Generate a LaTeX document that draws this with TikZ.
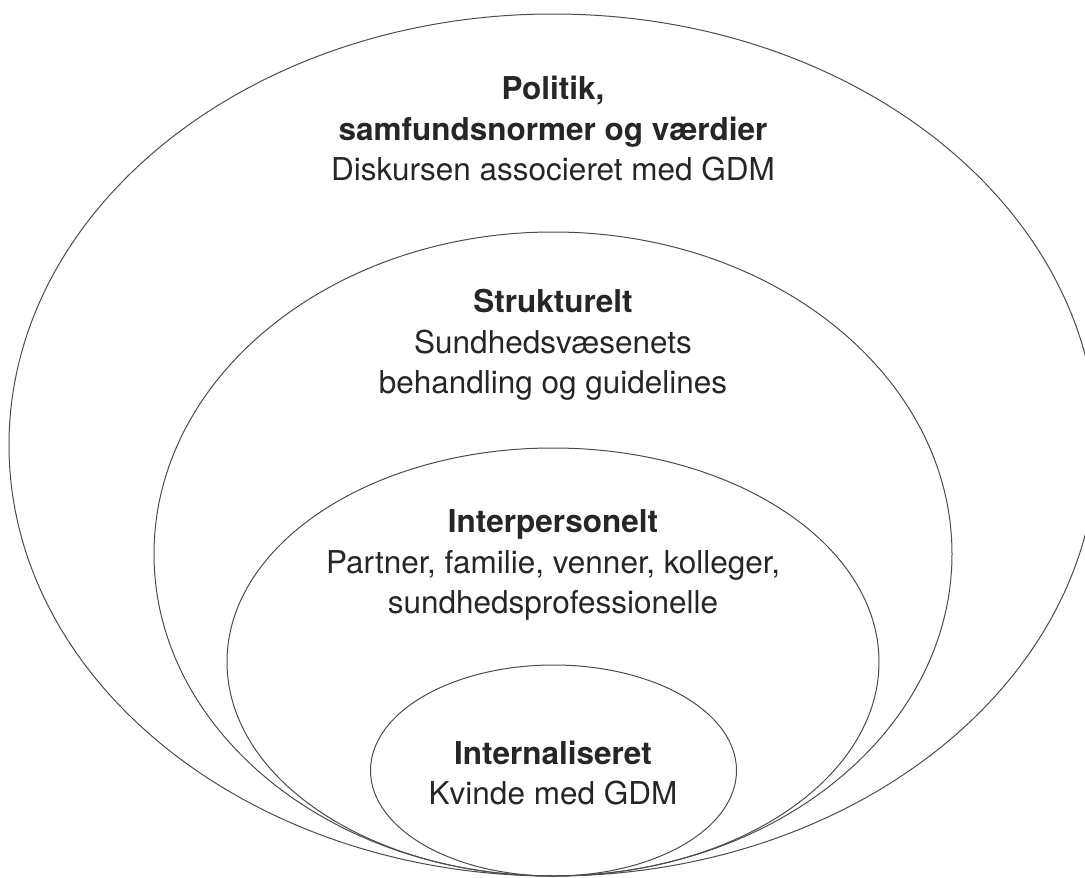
\documentclass[tikz,border=0pt]{standalone}
\usepackage{fontspec}
\setmainfont{TeX Gyre Heros}
\usepackage{tikz}
\usetikzlibrary{shapes.geometric, positioning}

\begin{document}
\begin{tikzpicture}[x=1pt, y=-1pt, thick,
    ring/.style={draw=black!70, line width=1pt, ellipse, inner sep=0pt},
    label/.style={align=center, text=black!85, font=\fontsize{31.5}{40.5}\selectfont}]

\useasboundingbox (0,0) rectangle (1085,878);
\clip (0,0) rectangle (1085,878);

\node[ring, minimum width=1088pt, minimum height=862pt] (politik) at (553,445) {};
\node[ring, minimum width=798pt, minimum height=644pt] (struktur) at (553,554) {};
\node[ring, minimum width=652pt, minimum height=428pt] (inter) at (553,662) {};
\node[ring, minimum width=366pt, minimum height=211pt] (intern) at (553.5,770.5) {};

\node[label] (politiktxt) at (553,129) {\textbf{Politik,}\\ \textbf{samfundsnormer og værdier}\\ Diskursen associeret med GDM};
\node[label] (strukturtxt) at (553,345) {\textbf{Strukturelt}\\ Sundhedsvæsenets\\ behandling og guidelines};
\node[label] (intertxt) at (553,565) {\textbf{Interpersonelt}\\ Partner, familie, venner, kolleger,\\ sundhedsprofessionelle};
\node[label] (interntxt) at (553,773) {\textbf{Internaliseret}\\ Kvinde med GDM};
\end{tikzpicture}
\end{document}
